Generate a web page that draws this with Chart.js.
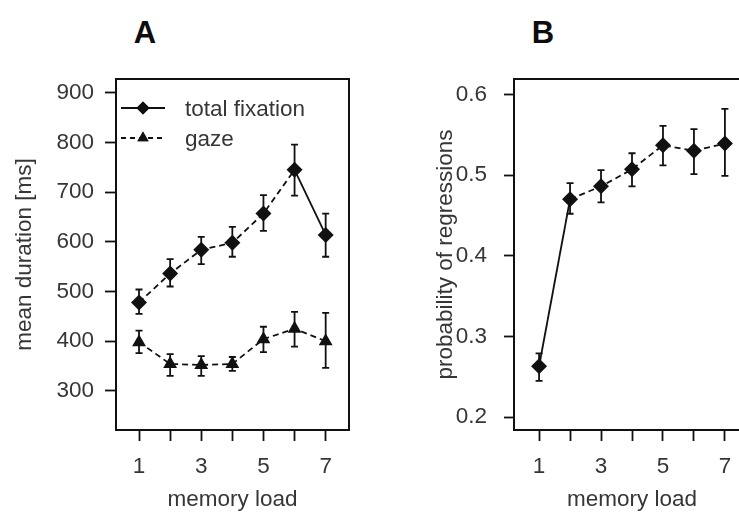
<!DOCTYPE html>
<html>
<head>
<meta charset="utf-8">
<title>Memory load</title>
<script src="https://cdn.jsdelivr.net/npm/chart.js@4/dist/chart.umd.min.js"></script>
<style>
    html, body {
        margin: 0;
        padding: 0;
        background: #ffffff;
        overflow: hidden;
    }
    .stage {
        position: relative;
        width: 739px;
        height: 513px;
        overflow: hidden;
        font-family: "Liberation Sans", Arial, sans-serif;
    }
    .stage canvas {
        position: absolute;
        top: 0;
    }
    .panel-letter {
        position: absolute;
        top: 13px;
        width: 40px;
        margin-left: -20px;
        text-align: center;
        font-weight: 900;
        font-size: 31px;
        line-height: 40px;
        color: #0d0d0d;
    }
</style>
</head>
<body>
<div class="stage">
    <div class="panel-letter" style="left: 145px;">A</div>
    <div class="panel-letter" style="left: 543px;">B</div>
    <canvas id="chart-a" width="370" height="513" style="left: 0;"></canvas>
    <canvas id="chart-b" width="400" height="513" style="left: 370px;"></canvas>
</div>
<script>
    const loads = [1, 2, 3, 4, 5, 6, 7];
    const loadTicks = [1, 2, 3, 4, 5, 6, 7];
    const labelledLoads = [1, 3, 5, 7];

    const totalFixation = [478, 536, 584, 598, 657, 745, 614];
    const totalFixationLow = [455, 510, 555, 570, 622, 693, 570];
    const totalFixationHigh = [504, 565, 610, 630, 694, 796, 657];

    const gaze = [398, 354, 352, 354, 404, 425, 400];
    const gazeLow = [376, 330, 330, 340, 378, 389, 346];
    const gazeHigh = [421, 374, 370, 368, 429, 459, 457];

    const regressions = [0.263, 0.470, 0.486, 0.507, 0.537, 0.530, 0.539];
    const regressionsLow = [0.245, 0.452, 0.466, 0.486, 0.512, 0.501, 0.499];
    const regressionsHigh = [0.279, 0.490, 0.506, 0.527, 0.561, 0.557, 0.582];

    const durationTicks = [300, 400, 500, 600, 700, 800, 900];
    const probabilityTicks = [0.2, 0.3, 0.4, 0.5, 0.6];

    const ink = "#111111";
    const labelColor = "#363636";
    const fontFamily = "'Liberation Sans', Arial, sans-serif";
    const dash = [6, 4];

    function points(values) {
        return loads.map((load, index) => ({ x: load, y: values[index] }));
    }

    // vertical error bars with short caps, drawn through the chart scales
    const errorBars = {
        id: "errorBars",
        afterDatasetsDraw(chart) {
            const { ctx, scales } = chart;
            ctx.save();
            ctx.strokeStyle = ink;
            ctx.lineWidth = 1.8;
            ctx.setLineDash([]);
            chart.data.datasets.forEach(dataset => {
                if (!dataset.errLow) {
                    return;
                }
                dataset.data.forEach((point, index) => {
                    const x = scales.x.getPixelForValue(point.x);
                    const top = scales.y.getPixelForValue(dataset.errHigh[index]);
                    const bottom = scales.y.getPixelForValue(dataset.errLow[index]);
                    ctx.beginPath();
                    ctx.moveTo(x, top);
                    ctx.lineTo(x, bottom);
                    ctx.moveTo(x - 3.5, top);
                    ctx.lineTo(x + 3.5, top);
                    ctx.moveTo(x - 3.5, bottom);
                    ctx.lineTo(x + 3.5, bottom);
                    ctx.stroke();
                });
            });
            ctx.restore();
        }
    };

    // closed box round the plotting area
    const frame = {
        id: "frame",
        beforeDatasetsDraw(chart) {
            const { ctx, chartArea } = chart;
            ctx.save();
            ctx.strokeStyle = ink;
            ctx.lineWidth = 2;
            ctx.strokeRect(chartArea.left, chartArea.top, chartArea.right - chartArea.left, chartArea.bottom - chartArea.top);
            ctx.restore();
        }
    };

    // legend in the top left corner: line sample, marker, label
    const insideLegend = {
        id: "insideLegend",
        afterDraw(chart) {
            const { ctx, chartArea } = chart;
            const rows = [chartArea.top + 29, chartArea.top + 59];
            ctx.save();
            chart.data.datasets.forEach((dataset, index) => {
                const y = rows[index];
                const x0 = chartArea.left + 5;
                const x1 = chartArea.left + 49;
                ctx.strokeStyle = ink;
                ctx.lineWidth = 1.8;
                ctx.setLineDash(dataset.legendDash);
                ctx.beginPath();
                ctx.moveTo(x0, y);
                ctx.lineTo(x1, y);
                ctx.stroke();
                ctx.setLineDash([]);
                Chart.helpers.drawPoint(ctx, {
                    pointStyle: dataset.pointStyle,
                    radius: dataset.pointRadius - 1.5,
                    borderWidth: 0,
                    rotation: 0
                }, (x0 + x1) / 2, y);
                ctx.fillStyle = ink;
                ctx.fill();
                ctx.fillStyle = labelColor;
                ctx.font = `22.5px ${fontFamily}`;
                ctx.textBaseline = "middle";
                ctx.fillText(dataset.label, chartArea.left + 69, y + 2);
            });
            ctx.restore();
        }
    };

    function xScale(min, max, title) {
        return {
            type: "linear",
            min,
            max,
            afterBuildTicks: scale => {
                scale.ticks = loadTicks.map(value => ({ value }));
            },
            afterFit: scale => {
                scale.height = 83;
            },
            border: { display: false },
            grid: {
                drawOnChartArea: false,
                drawTicks: true,
                tickLength: 11,
                tickWidth: 1.8,
                tickColor: ink
            },
            ticks: {
                padding: 12,
                color: labelColor,
                font: { family: fontFamily, size: 22.5 },
                maxRotation: 0,
                autoSkip: false,
                callback: value => labelledLoads.includes(value) ? String(value) : ""
            },
            title: {
                display: true,
                text: title,
                color: labelColor,
                font: { family: fontFamily, size: 22.5 },
                padding: { top: 0, bottom: 0 }
            }
        };
    }

    function yScale(min, max, ticks, width, options) {
        return {
            type: "linear",
            min,
            max,
            afterBuildTicks: scale => {
                scale.ticks = ticks.map(value => ({ value }));
            },
            afterFit: scale => {
                scale.width = width;
            },
            border: { display: false },
            grid: {
                drawOnChartArea: false,
                drawTicks: true,
                tickLength: options.tickLength,
                tickWidth: 1.8,
                tickColor: ink
            },
            ticks: {
                padding: options.labelGap,
                color: labelColor,
                font: { family: fontFamily, size: 22.5 },
                callback: options.format
            },
            title: {
                display: true,
                text: options.title,
                color: labelColor,
                font: { family: fontFamily, size: 22.5 },
                padding: { top: options.titleInset, bottom: 0 }
            }
        };
    }

    function baseOptions(padding, scales) {
        return {
            responsive: false,
            animation: false,
            layout: { padding },
            plugins: {
                legend: { display: false },
                tooltip: { enabled: false },
                title: { display: false }
            },
            scales
        };
    }

    new Chart(document.getElementById("chart-a"), {
        type: "line",
        data: {
            datasets: [
                {
                    label: "total fixation",
                    data: points(totalFixation),
                    errLow: totalFixationLow,
                    errHigh: totalFixationHigh,
                    borderColor: ink,
                    borderWidth: 1.8,
                    borderDash: dash,
                    legendDash: [],
                    // the last step, from load 6 to 7, is a solid stroke
                    segment: {
                        borderDash: ctx => ctx.p0DataIndex === 5 ? [] : dash
                    },
                    pointStyle: "rectRot",
                    pointRadius: 8,
                    pointBackgroundColor: ink,
                    pointBorderColor: ink,
                    pointBorderWidth: 0,
                    tension: 0
                },
                {
                    label: "gaze",
                    data: points(gaze),
                    errLow: gazeLow,
                    errHigh: gazeHigh,
                    borderColor: ink,
                    borderWidth: 1.8,
                    borderDash: dash,
                    legendDash: [5, 4],
                    pointStyle: "triangle",
                    pointRadius: 8,
                    pointBackgroundColor: ink,
                    pointBorderColor: ink,
                    pointBorderWidth: 0,
                    tension: 0
                }
            ]
        },
        options: baseOptions({ top: 79, right: 21, left: 0, bottom: 0 }, {
            x: xScale(0.26, 7.75, "memory load"),
            y: yScale(221, 928, durationTicks, 116, {
                title: "mean duration [ms]",
                tickLength: 11,
                labelGap: 11,
                titleInset: 11,
                format: value => String(value)
            })
        }),
        plugins: [frame, errorBars, insideLegend]
    });

    new Chart(document.getElementById("chart-b"), {
        type: "line",
        data: {
            datasets: [
                {
                    label: "probability of regressions",
                    data: points(regressions),
                    errLow: regressionsLow,
                    errHigh: regressionsHigh,
                    borderColor: ink,
                    borderWidth: 1.8,
                    borderDash: dash,
                    // the jump from load 1 to 2 is a solid stroke
                    segment: {
                        borderDash: ctx => ctx.p0DataIndex === 0 ? [] : dash
                    },
                    pointStyle: "rectRot",
                    pointRadius: 8,
                    pointBackgroundColor: ink,
                    pointBorderColor: ink,
                    pointBorderWidth: 0,
                    tension: 0
                }
            ]
        },
        options: baseOptions({ top: 79, right: 20, left: 0, bottom: 0 }, {
            x: xScale(0.19, 7.81, "memory load"),
            y: yScale(0.184, 0.619, probabilityTicks, 144, {
                title: "probability of regressions",
                tickLength: 10,
                labelGap: 17,
                titleInset: 62,
                format: value => value.toFixed(1)
            })
        }),
        plugins: [frame, errorBars]
    });
</script>
</body>
</html>
